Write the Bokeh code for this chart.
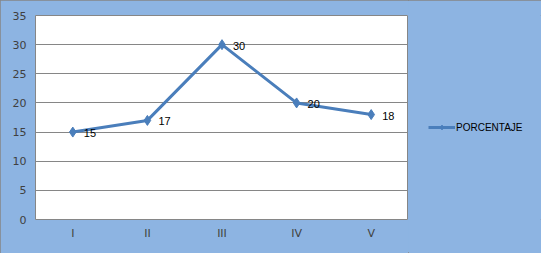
from bokeh.plotting import figure
from bokeh.layouts import row
from bokeh.models import ColumnDataSource, FixedTicker, Legend, LegendItem, Range1d
from bokeh.core.properties import value
from bokeh.embed import file_html
from bokeh.resources import INLINE

categories = ["I", "II", "III", "IV", "V"]
porcentaje = [15, 17, 30, 20, 18]
y_ticks = [0, 5, 10, 15, 20, 25, 30, 35]
series_name = "PORCENTAJE"

BG = "#8DB4E2"
line_color = "#4A7EBB"

src = ColumnDataSource(dict(x=categories, y=porcentaje, lbl=[str(v) for v in porcentaje]))

p = figure(width=408, height=253, x_range=categories, y_range=Range1d(0, 35),
           output_backend="svg", toolbar_location=None,
           min_border_left=35, min_border_right=0, min_border_top=15, min_border_bottom=34)
p.border_fill_color = BG
p.background_fill_color = "white"
p.outline_line_color = "#868686"
p.outline_line_width = 1

r1 = p.line("x", "y", source=src, line_color=line_color, line_width=3)
r2 = p.scatter("x", "y", source=src, marker="diamond", size=10, fill_color=line_color,
               line_color=line_color)
p.text("x", "y", text="lbl", source=src, x_offset=11, y_offset=1,
       text_baseline="middle", text_align="left", text_font=value("Liberation Sans"),
       text_font_size="11px", text_color="black")

p.yaxis.ticker = FixedTicker(ticks=y_ticks)
for ax in (p.xaxis[0], p.yaxis[0]):
    ax.axis_line_color = None
    ax.major_tick_line_color = None
    ax.minor_tick_line_color = None
    ax.major_tick_out = 0
    ax.major_tick_in = 0
    ax.minor_tick_out = 0
    ax.major_label_text_font = "DejaVu Sans"
    ax.major_label_text_font_size = "11px"
    ax.major_label_text_color = "#404040"
p.yaxis.major_label_standoff = 9
p.xaxis.major_label_standoff = 7
p.xgrid.grid_line_color = None
p.ygrid.grid_line_color = "#868686"
p.ygrid.grid_line_width = 1

# legend panel on the right (key renderers carry no visible data)
lg = figure(width=133, height=253, output_backend="svg", toolbar_location=None,
            x_range=Range1d(0, 1), y_range=Range1d(0, 1),
            min_border_left=0, min_border_right=0, min_border_top=0, min_border_bottom=0)
lg.axis.visible = False
lg.grid.visible = False
lg.outline_line_color = None
lg.border_fill_color = BG
lg.background_fill_color = BG
key_src = ColumnDataSource(dict(x=[float("nan")], y=[float("nan")]))
l1 = lg.line("x", "y", source=key_src, line_color=line_color, line_width=3)
l2 = lg.scatter("x", "y", source=key_src, marker="diamond", size=8, fill_color=line_color,
                line_color=line_color)
legend = Legend(items=[LegendItem(label=series_name, renderers=[l1, l2])],
                location=(20, 86), orientation="vertical",
                background_fill_alpha=0, border_line_color=None,
                label_text_font="Liberation Sans", label_text_font_size="10px",
                label_text_color="black", glyph_width=27, glyph_height=12, label_standoff=1,
                label_height=12, padding=0, margin=0, spacing=0)
lg.add_layout(legend)

layout = row(p, lg, spacing=0,
             styles={"background-color": BG, "outline": "1px solid #868686",
                     "outline-offset": "-1px"})
open("out.html", "w").write(file_html(layout, INLINE))
